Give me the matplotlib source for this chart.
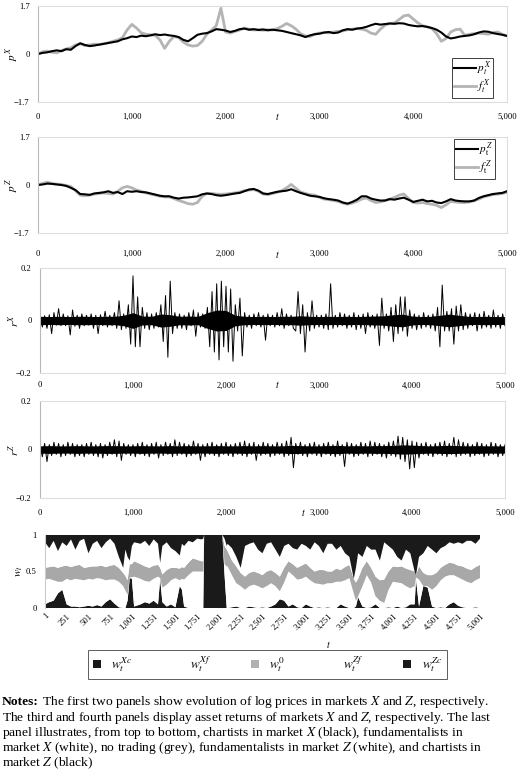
import numpy as np
import matplotlib
matplotlib.use("Agg")
import matplotlib.pyplot as plt
from matplotlib.patches import Patch

matplotlib.rcParams.update({
    'font.family': 'serif',
    'font.serif': ['Liberation Serif', 'DejaVu Serif'],
    'mathtext.fontset': 'stix',
    'axes.linewidth': 0.8,
})

W, H = 520, 782

# ── data: log prices (t = 0, 50, ..., 5000) ──
t_price = list(range(0, 5001, 50))
p_x = [0.00, 0.04, 0.06, 0.10, 0.13, 0.10, 0.17, 0.15, 0.28, 0.38,
       0.32, 0.28, 0.30, 0.33, 0.36, 0.39, 0.42, 0.45, 0.52, 0.56,
       0.62, 0.60, 0.65, 0.63, 0.66, 0.70, 0.67, 0.69, 0.66, 0.64,
       0.60, 0.50, 0.45, 0.56, 0.68, 0.72, 0.74, 0.80, 0.88, 0.86,
       0.83, 0.78, 0.82, 0.88, 0.90, 0.86, 0.88, 0.85, 0.87, 0.84,
       0.86, 0.84, 0.82, 0.78, 0.74, 0.70, 0.66, 0.60, 0.66, 0.70,
       0.72, 0.76, 0.78, 0.74, 0.76, 0.84, 0.88, 0.86, 0.90, 0.92,
       0.96, 1.02, 1.07, 1.04, 1.06, 1.08, 1.07, 1.09, 1.08, 1.03,
       1.00, 0.98, 0.99, 0.96, 0.92, 0.86, 0.76, 0.62, 0.55, 0.58,
       0.62, 0.64, 0.66, 0.70, 0.76, 0.80, 0.79, 0.74, 0.71, 0.68,
       0.64]
f_x = [0.00, 0.08, 0.10, 0.06, 0.04, 0.12, 0.18, 0.22, 0.32, 0.36,
       0.30, 0.32, 0.35, 0.34, 0.36, 0.40, 0.45, 0.50, 0.58, 0.85,
       1.05, 0.92, 0.75, 0.70, 0.68, 0.66, 0.50, 0.20, 0.45, 0.62,
       0.58, 0.42, 0.32, 0.28, 0.30, 0.45, 0.70, 0.85, 1.00, 1.62,
       0.78, 0.74, 0.80, 0.85, 0.92, 0.88, 0.85, 0.86, 0.84, 0.86,
       0.85, 0.90, 0.98, 1.08, 1.00, 0.88, 0.72, 0.64, 0.62, 0.70,
       0.74, 0.76, 0.75, 0.78, 0.80, 0.82, 0.86, 0.88, 0.90, 0.88,
       0.84, 0.74, 0.70, 0.88, 1.02, 1.08, 1.10, 1.22, 1.35, 1.38,
       1.24, 1.10, 1.00, 0.96, 0.90, 0.72, 0.45, 0.55, 0.78, 0.86,
       0.88, 0.66, 0.70, 0.72, 0.74, 0.72, 0.70, 0.76, 0.78, 0.70,
       0.64]
p_z = [0.00, 0.02, 0.05, 0.04, 0.02, 0.00, -0.03, -0.10, -0.18, -0.32,
       -0.33, -0.35, -0.30, -0.28, -0.26, -0.22, -0.28, -0.25, -0.32, -0.22,
       -0.24, -0.22, -0.25, -0.26, -0.30, -0.34, -0.38, -0.40, -0.40, -0.45,
       -0.48, -0.45, -0.44, -0.42, -0.40, -0.33, -0.30, -0.32, -0.36, -0.38,
       -0.36, -0.33, -0.30, -0.28, -0.22, -0.16, -0.14, -0.20, -0.30, -0.32,
       -0.28, -0.24, -0.22, -0.20, -0.15, -0.22, -0.28, -0.33, -0.38, -0.40,
       -0.42, -0.47, -0.50, -0.52, -0.55, -0.62, -0.66, -0.60, -0.52, -0.40,
       -0.40, -0.48, -0.52, -0.55, -0.55, -0.50, -0.52, -0.48, -0.45, -0.52,
       -0.60, -0.56, -0.52, -0.58, -0.56, -0.62, -0.64, -0.58, -0.50, -0.55,
       -0.57, -0.58, -0.58, -0.55, -0.46, -0.40, -0.36, -0.32, -0.30, -0.28,
       -0.22]
f_z = [0.00, 0.06, 0.10, 0.05, 0.03, 0.02, -0.02, -0.05, -0.20, -0.36,
       -0.38, -0.36, -0.32, -0.30, -0.28, -0.30, -0.32, -0.22, -0.10, -0.05,
       -0.10, -0.18, -0.22, -0.28, -0.32, -0.36, -0.40, -0.42, -0.42, -0.48,
       -0.55, -0.60, -0.66, -0.68, -0.62, -0.40, -0.30, -0.30, -0.32, -0.33,
       -0.32, -0.30, -0.28, -0.25, -0.20, -0.18, -0.16, -0.22, -0.32, -0.34,
       -0.30, -0.26, -0.20, -0.10, 0.02, -0.12, -0.25, -0.30, -0.34, -0.36,
       -0.44, -0.50, -0.52, -0.55, -0.58, -0.64, -0.68, -0.64, -0.58, -0.50,
       -0.46, -0.55, -0.62, -0.60, -0.55, -0.50, -0.44, -0.36, -0.32, -0.48,
       -0.62, -0.64, -0.62, -0.66, -0.68, -0.72, -0.80, -0.70, -0.58, -0.60,
       -0.62, -0.62, -0.60, -0.56, -0.50, -0.42, -0.38, -0.34, -0.32, -0.30,
       -0.26]

# ── data: returns (t = 0, 25, ..., 5000) and core band (t = 0, 100, ..., 5000) ──
t_ret = list(range(0, 5001, 25))
r_x = [0.02, -0.025, 0.018, -0.03, 0.022, -0.05, 0.03, -0.018, 0.045, -0.02, 0.025, -0.02, 0.018, -0.055, 0.04, -0.022, 0.02, -0.03, 0.025, -0.02,
       0.02, -0.018, 0.025, -0.03, 0.02, -0.05, 0.022, -0.02, 0.035, -0.025, 0.02, -0.02, 0.03, -0.03, 0.075, -0.035, 0.025, -0.03, 0.06, -0.09,
       0.17, -0.1, 0.09, -0.1, 0.05, -0.03, 0.03, -0.035, 0.025, -0.03, 0.03, -0.025, 0.06, -0.08, 0.095, -0.14, 0.15, -0.05, 0.03, -0.03,
       0.025, -0.03, 0.02, -0.035, 0.03, -0.02, 0.04, -0.06, 0.03, -0.025, 0.025, -0.03, 0.05, -0.1, 0.11, -0.12, 0.14, -0.15, 0.15, -0.1,
       0.13, -0.12, 0.12, -0.155, 0.06, -0.04, 0.085, -0.135, 0.03, -0.025, 0.02, -0.03, 0.025, -0.02, 0.03, -0.025, 0.02, -0.075, 0.025, -0.02,
       0.02, -0.025, 0.03, -0.02, 0.045, -0.03, 0.025, -0.02, 0.02, -0.03, -0.04, 0.11, -0.05, 0.06, -0.12, 0.03, -0.04, 0.075, -0.03, 0.02,
       -0.025, 0.02, -0.03, 0.025, -0.035, 0.14, -0.03, 0.02, -0.025, 0.03, -0.02, 0.025, -0.03, 0.02, -0.025, 0.03, -0.035, 0.02, -0.03, 0.025,
       -0.05, 0.03, -0.025, 0.02, -0.03, 0.025, -0.095, 0.085, -0.03, 0.025, -0.04, 0.05, -0.08, 0.06, -0.05, 0.09, -0.04, 0.09, -0.06, 0.04,
       -0.03, 0.025, -0.035, 0.02, -0.03, 0.03, -0.025, 0.02, -0.03, 0.025, -0.04, 0.05, -0.1, 0.135, -0.04, 0.035, -0.04, 0.045, -0.09, 0.055,
       -0.04, 0.06, -0.035, 0.03, -0.03, 0.025, -0.02, 0.03, -0.04, 0.025, -0.03, 0.035, -0.025, 0.02, -0.03, 0.04, -0.025, 0.02, -0.03, 0.025,
       -0.02]
r_z = [0.02, -0.03, 0.025, -0.05, 0.02, -0.025, 0.03, -0.02, 0.025, -0.03, 0.02, -0.025, 0.03, -0.02, 0.025, -0.03, 0.02, -0.025, 0.02, -0.03,
       0.025, -0.02, 0.03, -0.025, 0.02, -0.03, 0.025, -0.035, 0.02, -0.025, 0.03, -0.02, 0.04, -0.03, 0.035, -0.045, 0.025, -0.02, 0.02, -0.025,
       0.02, -0.03, 0.025, -0.02, 0.03, -0.025, 0.02, -0.03, 0.025, -0.02, 0.03, -0.035, 0.02, -0.025, 0.03, -0.02, 0.025, -0.03, 0.04, -0.025,
       0.03, -0.02, 0.025, -0.03, 0.02, -0.025, 0.035, -0.02, 0.025, -0.045, 0.02, -0.03, 0.025, -0.02, 0.03, -0.025, 0.02, -0.03, 0.025, -0.02,
       0.03, -0.025, 0.02, -0.03, 0.025, -0.02, 0.03, -0.025, 0.035, -0.03, 0.025, -0.02, 0.03, -0.045, 0.02, -0.025, 0.03, -0.02, 0.025, -0.03,
       0.02, -0.025, 0.03, -0.02, 0.025, -0.03, 0.035, -0.025, 0.05, -0.075, 0.025, -0.02, 0.03, -0.025, 0.02, -0.03, 0.025, -0.02, 0.03, -0.025,
       0.02, -0.03, 0.025, -0.02, 0.03, -0.025, 0.02, -0.03, 0.035, -0.025, 0.02, -0.07, 0.03, -0.02, 0.025, -0.03, 0.02, -0.025, 0.03, -0.02,
       0.025, -0.03, 0.035, -0.025, 0.03, -0.02, 0.025, -0.03, 0.02, -0.035, 0.03, -0.025, 0.035, -0.03, 0.055, -0.04, 0.05, -0.05, 0.04, -0.08,
       0.035, -0.075, 0.03, -0.035, 0.025, -0.02, 0.03, -0.025, 0.02, -0.03, 0.025, -0.02, 0.03, -0.025, 0.035, -0.03, 0.025, -0.02, 0.05, -0.03,
       0.04, -0.025, 0.03, -0.02, 0.025, -0.03, 0.02, -0.025, 0.03, -0.02, 0.025, -0.03, 0.02, -0.025, 0.03, -0.02, 0.025, -0.03, 0.02, -0.025,
       0.02]
t_core = list(range(0, 5001, 100))
rx_core = [0.016, 0.015, 0.016, 0.015, 0.016, 0.016, 0.015, 0.016, 0.016, 0.02,
           0.03, 0.017, 0.016, 0.025, 0.022, 0.016, 0.017, 0.016, 0.03, 0.04,
           0.038, 0.02, 0.016, 0.015, 0.016, 0.015, 0.016, 0.016, 0.018, 0.016,
           0.015, 0.016, 0.015, 0.016, 0.015, 0.016, 0.017, 0.018, 0.022, 0.024,
           0.017, 0.015, 0.016, 0.02, 0.024, 0.02, 0.016, 0.015, 0.016, 0.015,
           0.015]
rz_core = [0.015, 0.016, 0.015, 0.015, 0.016, 0.015, 0.015, 0.016, 0.016, 0.015,
           0.015, 0.016, 0.015, 0.015, 0.016, 0.015, 0.016, 0.015, 0.015, 0.016,
           0.015, 0.015, 0.016, 0.015, 0.016, 0.015, 0.015, 0.017, 0.016, 0.015,
           0.015, 0.016, 0.017, 0.015, 0.016, 0.015, 0.016, 0.016, 0.017, 0.019,
           0.018, 0.016, 0.015, 0.016, 0.017, 0.016, 0.015, 0.016, 0.015, 0.015,
           0.015]

# ── data: trader shares, boundaries ──
t_w = [1, 50, 100, 150, 200, 250, 300, 350, 400, 450, 500, 550, 600, 650, 700, 750, 800, 850,
       900, 925, 950, 975, 1000, 1025, 1100, 1150, 1200, 1250, 1300, 1325, 1350,
       1400, 1450, 1500, 1550, 1575, 1600, 1650, 1700, 1750, 1800, 1820, 1830, 2040, 2065, 2090,
       2100, 2150, 2200, 2250, 2300, 2350, 2400, 2450, 2500, 2550, 2600, 2650, 2700, 2750, 2800,
       2850, 2900, 2950, 3000, 3050, 3100, 3150, 3200, 3250, 3300, 3350, 3400, 3450, 3500,
       3550, 3575, 3600, 3650, 3700, 3750, 3800, 3850, 3900, 3950, 4000, 4050, 4100, 4150, 4200, 4250,
       4265, 4300, 4350, 4400, 4450, 4500, 4550, 4600, 4650, 4700, 4750, 4800, 4850, 4900, 4950, 5001]
x_chart = [0.10, 0.18, 0.08, 0.22, 0.10, 0.15, 0.06, 0.20, 0.08, 0.05, 0.25, 0.12, 0.08, 0.18, 0.10, 0.05, 0.12, 0.30,
           0.45, 0.20, 0.30, 0.35, 0.15, 0.10, 0.12, 0.08, 0.15, 0.06, 0.12, 0.38, 0.15,
           0.10, 0.18, 0.22, 0.28, 0.12, 0.15, 0.08, 0.10, 0.05, 0.06, 0.05, 0.0, 0.0, 0.05, 0.15,
           0.12, 0.18, 0.30, 0.45, 0.15, 0.12, 0.10, 0.20, 0.25, 0.12, 0.10, 0.20, 0.30, 0.15, 0.12,
           0.18, 0.20, 0.12, 0.15, 0.20, 0.10, 0.15, 0.25, 0.12, 0.12, 0.20, 0.15, 0.25, 0.30,
           0.60, 0.45, 0.25, 0.30, 0.15, 0.20, 0.20, 0.35, 0.10, 0.15, 0.20, 0.30, 0.35, 0.20, 0.25, 0.50,
           0.55, 0.30, 0.25, 0.15, 0.20, 0.25, 0.18, 0.15, 0.10, 0.12, 0.10, 0.12, 0.08, 0.08, 0.12, 0.05]
grey_lo = [0.39, 0.40, 0.38, 0.36, 0.36, 0.40, 0.38, 0.40, 0.39, 0.38, 0.40, 0.39, 0.41, 0.40, 0.38, 0.39, 0.39, 0.36,
           0.30, 0.24, 0.18, 0.42, 0.42, 0.43, 0.40, 0.37, 0.36, 0.40, 0.43, 0.41, 0.28,
           0.32, 0.38, 0.41, 0.38, 0.40, 0.39, 0.45, 0.50, 0.50, 0.50, 0.50, 1.0, 1.0, 0.60, 0.57,
           0.57, 0.45, 0.34, 0.30, 0.25, 0.30, 0.32, 0.30, 0.27, 0.30, 0.34, 0.30, 0.23, 0.35, 0.50,
           0.45, 0.39, 0.40, 0.43, 0.38, 0.34, 0.33, 0.32, 0.34, 0.34, 0.36, 0.36, 0.38, 0.41,
           0.20, 0.10, 0.16, 0.30, 0.45, 0.35, 0.16, 0.10, 0.07, 0.25, 0.36, 0.35, 0.34, 0.30, 0.27, 0.30,
           0.42, 0.39, 0.30, 0.30, 0.25, 0.30, 0.38, 0.43, 0.45, 0.45, 0.42, 0.39, 0.36, 0.34, 0.38, 0.41]
grey_hi = [0.55, 0.56, 0.57, 0.55, 0.57, 0.58, 0.56, 0.58, 0.59, 0.55, 0.56, 0.57, 0.57, 0.58, 0.56, 0.58, 0.59, 0.55,
           0.48, 0.44, 0.38, 0.60, 0.60, 0.64, 0.60, 0.57, 0.55, 0.58, 0.59, 0.55, 0.46,
           0.52, 0.55, 0.55, 0.54, 0.56, 0.55, 0.62, 0.68, 0.66, 0.64, 0.64, 1.0, 1.0, 0.85, 0.80,
           0.78, 0.65, 0.57, 0.48, 0.43, 0.48, 0.50, 0.48, 0.45, 0.50, 0.52, 0.48, 0.43, 0.55, 0.64,
           0.60, 0.55, 0.58, 0.61, 0.55, 0.50, 0.52, 0.52, 0.50, 0.50, 0.54, 0.52, 0.56, 0.59,
           0.40, 0.35, 0.40, 0.55, 0.64, 0.55, 0.43, 0.38, 0.39, 0.50, 0.57, 0.56, 0.57, 0.54, 0.52, 0.50,
           0.45, 0.57, 0.48, 0.45, 0.45, 0.48, 0.55, 0.59, 0.62, 0.61, 0.58, 0.57, 0.54, 0.52, 0.56, 0.59]
z_chart = [0.05, 0.08, 0.10, 0.20, 0.25, 0.05, 0.02, 0.02, 0.01, 0.02, 0.03, 0.02, 0.04, 0.02, 0.08, 0.12, 0.06, 0.01,
           0.0, 0.0, 0.10, 0.41, 0.40, 0.02, 0.05, 0.08, 0.06, 0.10, 0.05, 0.40, 0.08,
           0.02, 0.05, 0.01, 0.30, 0.25, 0.02, 0.0, 0.0, 0.0, 0.0, 0.0, 1.0, 1.0, 0.45, 0.0,
           0.0, 0.01, 0.02, 0.0, 0.0, 0.02, 0.01, 0.0, 0.01, 0.0, 0.02, 0.05, 0.12, 0.10, 0.02,
           0.05, 0.01, 0.0, 0.05, 0.02, 0.0, 0.01, 0.0, 0.01, 0.0, 0.0, 0.05, 0.02, 0.0,
           0.0, 0.02, 0.15, 0.02, 0.0, 0.01, 0.05, 0.0, 0.0, 0.01, 0.0, 0.02, 0.0, 0.01, 0.05, 0.05,
           0.40, 0.02, 0.30, 0.28, 0.02, 0.0, 0.01, 0.0, 0.05, 0.08, 0.03, 0.01, 0.0, 0.0, 0.01, 0.0]

price_ticks = ["0", "1,000", "2,000", "3,000", "4,000", "5,000"]
w_ticks = ["1", "251", "501", "751", "1,001", "1,251", "1,501", "1,751", "2,001", "2,251", "2,501",
           "2,751", "3,001", "3,251", "3,501", "3,751", "4,001", "4,251", "4,501", "4,751", "5,001"]

GREY = "#b4b4b4"


def box(l, t, r, b):
    return [l / W, 1 - b / H, (r - l) / W, (b - t) / H]


def style(ax, lim, ylab, xpad, width):
    ax.set_xlim(0, 5000)
    ax.set_ylim(-lim, lim)
    ax.set_xticks([int(s.replace(",", "")) for s in price_ticks])
    ax.set_xticklabels(price_ticks)
    ax.set_yticks([-lim, 0, lim])
    txt = "%g" % lim
    ax.set_yticklabels(["\u2212" + txt, "0", txt])
    for s in ax.spines.values():
        s.set_color("#dddddd")
    ax.spines["left"].set_color("#b8b8b8")
    ax.tick_params(axis="both", length=0, labelsize=6.2)
    ax.tick_params(axis="y", pad=6)
    ax.tick_params(axis="x", pad=xpad)
    ax.set_ylabel(ylab, fontsize=8, rotation=90, va="center")
    ax.yaxis.set_label_coords(-26 / width, 0.5)


fig = plt.figure(figsize=(W / 100, H / 100), dpi=100)

# ── panel 1: p^X and f^X ──
ax1 = fig.add_axes(box(38, 6, 507, 102))
lf, = ax1.plot(t_price, f_x, color=GREY, lw=2.0, label=r"$f^{X}_{t}$")
lp, = ax1.plot(t_price, p_x, color="black", lw=1.5, label=r"$p^{X}_{t}$")
style(ax1, 1.7, r"$p^{X}$", 8, 469)
leg = ax1.legend([lp, lf], [lp.get_label(), lf.get_label()], loc="lower right",
                 bbox_to_anchor=((493 - 38) / 469, 4 / 96), borderaxespad=0, fontsize=8,
                 fancybox=False, edgecolor="#404040", borderpad=0.15, handlelength=2.0,
                 handletextpad=0.1, labelspacing=0.05, framealpha=1)
leg.get_frame().set_linewidth(0.7)

# ── panel 2: p^Z and f^Z ──
ax2 = fig.add_axes(box(38, 137, 507, 233))
lf, = ax2.plot(t_price, f_z, color=GREY, lw=2.0, label=r"$f^{Z}_{\mathrm{t}}$")
lp, = ax2.plot(t_price, p_z, color="black", lw=1.5, label=r"$p^{Z}_{\mathrm{t}}$")
style(ax2, 1.7, r"$p^{Z}$", 12, 469)
leg = ax2.legend([lp, lf], [lp.get_label(), lf.get_label()], loc="upper right",
                 bbox_to_anchor=((495 - 38) / 469, (233 - 139) / 96), borderaxespad=0, fontsize=8,
                 fancybox=False, edgecolor="#404040", borderpad=0.15, handlelength=2.0,
                 handletextpad=0.1, labelspacing=0.05, framealpha=1)
leg.get_frame().set_linewidth(0.7)

# ── panel 3: r^X ──
ax3 = fig.add_axes(box(40, 268, 505, 373))
ax3.fill_between(t_core, -np.array(rx_core), rx_core, color="black", lw=0)
ax3.plot(t_ret, r_x, color="black", lw=0.7)
style(ax3, 0.2, r"$r^{\,X}$", 6, 465)

# ── panel 4: r^Z ──
ax4 = fig.add_axes(box(40, 401, 505, 498))
ax4.fill_between(t_core, -np.array(rz_core), rz_core, color="black", lw=0)
ax4.plot(t_ret, r_z, color="black", lw=0.7)
style(ax4, 0.2, r"$r^{\,Z}$", 8, 465)

for x, y in [(277, 117), (277, 254), (277, 385), (303, 513)]:
    fig.text(x / W, 1 - y / H, r"$t$", ha="center", va="center", fontsize=7)

# ── panel 5: shares of trader types ──
ax5 = fig.add_axes(box(45, 535, 480, 608))
xc = np.array(x_chart)
zc = np.array(z_chart)
lo = np.array(grey_lo)
hi = np.array(grey_hi)
w_zc = zc
w_zf = np.clip(lo - zc, 0, None)
w_0 = np.clip(hi - lo, 0, None)
w_xf = np.clip(1 - xc - hi, 0, None)
w_xc = xc
ax5.stackplot(t_w, w_zc, w_zf, w_0, w_xf, w_xc,
              colors=["#1a1a1a", "white", "#a8a8a8", "white", "#1a1a1a"], lw=0)
ax5.set_xlim(1, 5001)
ax5.set_ylim(0, 1)
ax5.set_yticks([0, 0.5, 1])
ax5.set_yticklabels(["0", "0.5", "1"])
ax5.set_xticks([int(s.replace(",", "")) for s in w_ticks])
ax5.set_xticklabels(w_ticks, rotation=45, ha="right", rotation_mode="anchor")
for k in ["top", "right", "bottom"]:
    ax5.spines[k].set_visible(False)
ax5.spines["left"].set_color("#cccccc")
ax5.tick_params(axis="both", length=0, labelsize=6.2)
ax5.tick_params(axis="y", pad=6)
ax5.tick_params(axis="x", pad=3)
ax5.set_ylabel(r"$w_t$", fontsize=8, va="center")
ax5.yaxis.set_label_coords(-(45 - 20) / 435, 0.5)
fig.text(328 / W, 1 - 645 / H, r"$t$", ha="center", va="center", fontsize=7)

handles = [Patch(facecolor="#1a1a1a"), Patch(facecolor="white", edgecolor="white"),
           Patch(facecolor="#b0b0b0"), Patch(facecolor="white", edgecolor="white"),
           Patch(facecolor="#1a1a1a")]
labels = [r"$w_t^{Xc}$", r"$w_t^{Xf}$", r"$w_t^{0}$", r"$w_t^{Zf}$", r"$w_t^{Zc}$"]
leg = fig.legend(handles, labels, loc="lower left", mode="expand", ncol=5,
                 bbox_to_anchor=(88 / W, 1 - 679 / H, 359 / W, 26 / H), fontsize=9.5,
                 fancybox=False, edgecolor="#333333", handlelength=0.6, handleheight=0.6,
                 handletextpad=0.8, borderpad=0.35, borderaxespad=0)
leg.get_frame().set_linewidth(0.7)

# ── notes ──
notes = [
    r" The first two panels show evolution of log prices in markets $X$ and $Z$, respectively.",
    r"The third and fourth panels display asset returns of markets $X$ and $Z$, respectively. The last",
    r"panel illustrates, from top to bottom, chartists in market $X$ (black), fundamentalists in",
    r"market $X$ (white), no trading (grey), fundamentalists in market $Z$ (white), and chartists in",
    r"market $Z$ (black)",
]
ys = [702, 718, 733, 748, 763]
fs = 9.7
bold = fig.text(2 / W, 1 - ys[0] / H, "Notes:", fontweight="bold", fontsize=fs, va="center")
fig.canvas.draw()
bb = bold.get_window_extent(fig.canvas.get_renderer())
fig.text(bb.x1 / W, 1 - ys[0] / H, notes[0], fontsize=fs, va="center")
for line, y in zip(notes[1:], ys[1:]):
    fig.text(2 / W, 1 - y / H, line, fontsize=fs, va="center")

fig.savefig("out.png", dpi=100)
